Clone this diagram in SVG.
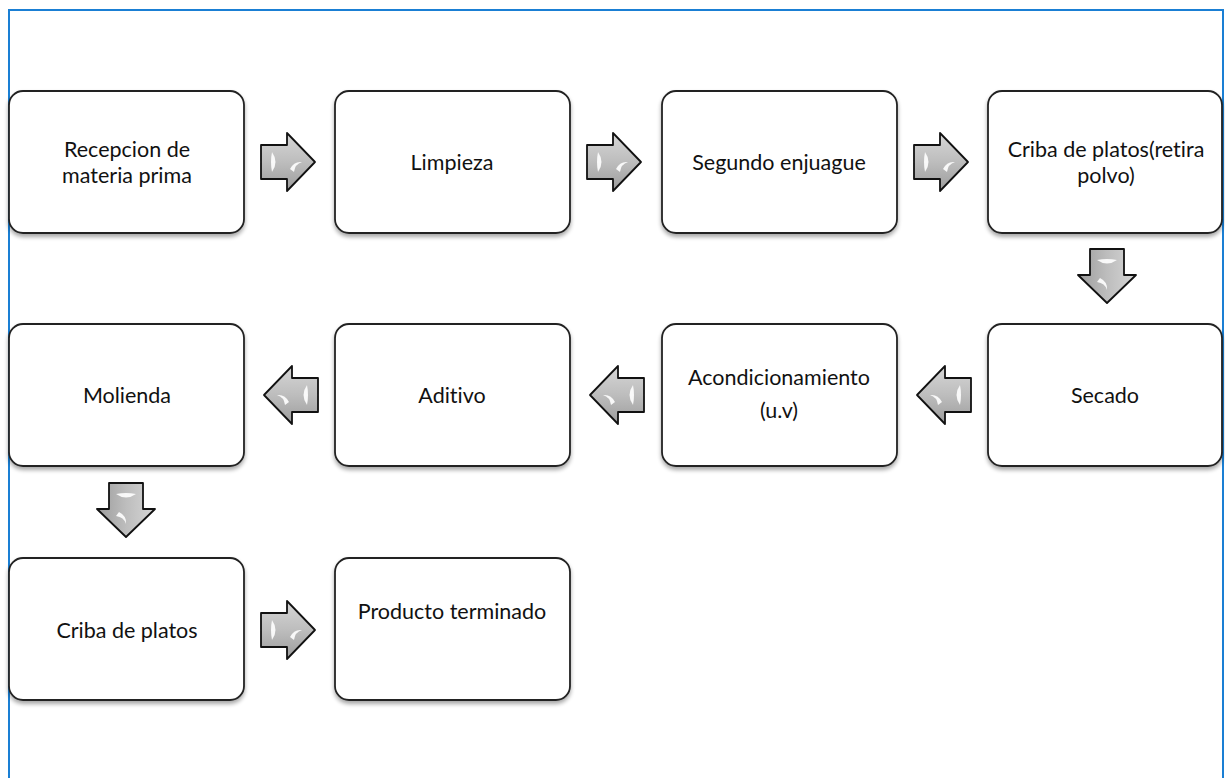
<svg xmlns="http://www.w3.org/2000/svg" width="1225" height="778" viewBox="0 0 1225 778">
<defs>
<filter id="sh" x="-10%" y="-10%" width="130%" height="130%">
<feGaussianBlur in="SourceAlpha" stdDeviation="2"/>
<feOffset dx="0" dy="3" result="b"/>
<feComponentTransfer><feFuncA type="linear" slope="0.35"/></feComponentTransfer>
<feMerge><feMergeNode/><feMergeNode in="SourceGraphic"/></feMerge>
</filter>
<linearGradient id="g" x1="0" y1="0" x2="0" y2="1">
<stop offset="0" stop-color="#d6d6d6"/>
<stop offset="0.5" stop-color="#bdbdbd"/>
<stop offset="1" stop-color="#9c9c9c"/>
</linearGradient>
<g id="ar">
<path d="M0,12 H26 V0 L54,29 L26,58 V46 H0 Z" fill="url(#g)" stroke="#111" stroke-width="1.8" stroke-linejoin="round"/>
<path d="M11,19 Q18,29 11,39 Q9,29 11,19 Z" fill="#fff" opacity="0.9"/>
<path d="M29,36 Q33,28 41,29 Q34,31 33,39 Z" fill="#fff" opacity="0.9"/>
</g>
</defs>
<style>
.box{fill:#fff;stroke:#222;stroke-width:1.8;filter:url(#sh)}
.t{font-family:Lato,"Liberation Sans",sans-serif;font-size:21.5px;fill:#111;text-anchor:middle;font-variant-ligatures:none;font-feature-settings:"liga" 0}
</style>
<rect width="1225" height="778" fill="#fff"/>
<path d="M9,778 V10 H1223 V778" fill="none" stroke="#1a7fd4" stroke-width="2"/>
<g id="n1"><rect class="box" x="9" y="91" width="235" height="142" rx="14"/><text class="t" x="127" y="157">Recepcion de</text><text class="t" x="127" y="183">materia prima</text></g>
<g id="n2"><rect class="box" x="335" y="91" width="235" height="142" rx="14"/><text class="t" x="452" y="170">Limpieza</text></g>
<g id="n3"><rect class="box" x="662" y="91" width="235" height="142" rx="14"/><text class="t" x="779" y="170">Segundo enjuague</text></g>
<g id="n4"><rect class="box" x="988" y="91" width="234" height="142" rx="14"/><text class="t" x="1106" y="157">Criba de platos(retira</text><text class="t" x="1106" y="183">polvo)</text></g>
<g id="n5"><rect class="box" x="988" y="324" width="234" height="142" rx="14"/><text class="t" x="1105" y="403">Secado</text></g>
<g id="n6"><rect class="box" x="662" y="324" width="235" height="142" rx="14"/><text class="t" x="779" y="385">Acondicionamiento</text><text class="t" x="779" y="418">(u.v)</text></g>
<g id="n7"><rect class="box" x="335" y="324" width="235" height="142" rx="14"/><text class="t" x="452" y="403">Aditivo</text></g>
<g id="n8"><rect class="box" x="9" y="324" width="235" height="142" rx="14"/><text class="t" x="127" y="403">Molienda</text></g>
<g id="n9"><rect class="box" x="9" y="558" width="235" height="142" rx="14"/><text class="t" x="127" y="638">Criba de platos</text></g>
<g id="n10"><rect class="box" x="335" y="558" width="235" height="142" rx="14"/><text class="t" x="452" y="619">Producto terminado</text></g>
<g id="connectors">
<use href="#ar" transform="translate(261,133)"/>
<use href="#ar" transform="translate(587,133)"/>
<use href="#ar" transform="translate(914,133)"/>
<use href="#ar" transform="translate(1078,249) rotate(90 0 0) translate(0,-58)"/>
<use href="#ar" transform="translate(971,366) scale(-1,1)"/>
<use href="#ar" transform="translate(644,366) scale(-1,1)"/>
<use href="#ar" transform="translate(318,366) scale(-1,1)"/>
<use href="#ar" transform="translate(97,483) rotate(90 0 0) translate(0,-58)"/>
<use href="#ar" transform="translate(261,601)"/>
</g>
</svg>
